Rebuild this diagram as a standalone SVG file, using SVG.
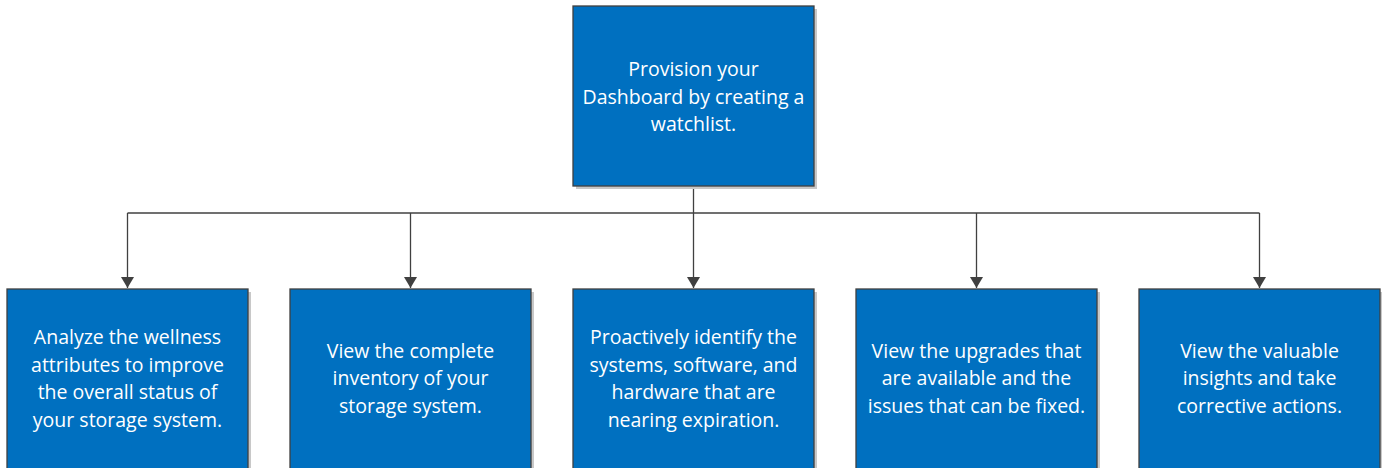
<svg xmlns="http://www.w3.org/2000/svg" width="1382" height="468" viewBox="0 0 1382 468">
<style>
.box{fill:#0070C0;stroke:#3f3f3f;stroke-width:1.3}
.sh{fill:#c8c8c8}
.t{font-family:"Open Sans","Noto Sans","Liberation Sans",sans-serif;font-size:19.5px;fill:#ffffff;text-anchor:middle}
.c{fill:none;stroke:#404040;stroke-width:1.3}
</style>
<defs>
<marker id="ah" markerWidth="14" markerHeight="14" refX="11" refY="6.5" orient="auto" markerUnits="userSpaceOnUse">
<path d="M0,0 L11,6.5 L0,13 z" fill="#404040"/>
</marker>
</defs>
<rect width="1382" height="468" fill="#ffffff"/>
<g id="connectors">
<path class="c" d="M693.5,186 V213"/>
<path class="c" d="M127.5,213 H1259.5"/>
<path class="c" d="M127.5,213 V288" marker-end="url(#ah)"/>
<path class="c" d="M410.5,213 V288" marker-end="url(#ah)"/>
<path class="c" d="M693.5,213 V288" marker-end="url(#ah)"/>
<path class="c" d="M976.5,213 V288" marker-end="url(#ah)"/>
<path class="c" d="M1259.5,213 V288" marker-end="url(#ah)"/>
</g>
<g id="root">
<rect class="sh" x="576" y="9" width="241" height="180"/>
<rect class="box" x="573" y="6" width="241" height="180"/>
<text class="t" x="693.5" y="76">Provision your</text>
<text class="t" x="693.5" y="103.5">Dashboard by creating a</text>
<text class="t" x="693.5" y="131">watchlist.</text>
</g>
<g id="n1">
<rect class="sh" x="10" y="292" width="241" height="180"/>
<rect class="box" x="7" y="289" width="241" height="182"/>
<text class="t" x="127.5" y="344">Analyze the wellness</text>
<text class="t" x="127.5" y="371.5">attributes to improve</text>
<text class="t" x="127.5" y="399">the overall status of</text>
<text class="t" x="127.5" y="426.5">your storage system.</text>
</g>
<g id="n2">
<rect class="sh" x="293" y="292" width="241" height="180"/>
<rect class="box" x="290" y="289" width="241" height="182"/>
<text class="t" x="410.5" y="357.5">View the complete</text>
<text class="t" x="410.5" y="385">inventory of your</text>
<text class="t" x="410.5" y="412.5">storage system.</text>
</g>
<g id="n3">
<rect class="sh" x="576" y="292" width="241" height="180"/>
<rect class="box" x="573" y="289" width="241" height="182"/>
<text class="t" x="693.5" y="344">Proactively identify the</text>
<text class="t" x="693.5" y="371.5">systems, software, and</text>
<text class="t" x="693.5" y="399">hardware that are</text>
<text class="t" x="693.5" y="426.5">nearing expiration.</text>
</g>
<g id="n4">
<rect class="sh" x="859" y="292" width="241" height="180"/>
<rect class="box" x="856" y="289" width="241" height="182"/>
<text class="t" x="976.5" y="357.5">View the upgrades that</text>
<text class="t" x="976.5" y="385">are available and the</text>
<text class="t" x="976.5" y="412.5">issues that can be fixed.</text>
</g>
<g id="n5">
<rect class="sh" x="1142" y="292" width="241" height="180"/>
<rect class="box" x="1139" y="289" width="241" height="182"/>
<text class="t" x="1259.5" y="357.5">View the valuable</text>
<text class="t" x="1259.5" y="385">insights and take</text>
<text class="t" x="1259.5" y="412.5">corrective actions.</text>
</g>
</svg>
